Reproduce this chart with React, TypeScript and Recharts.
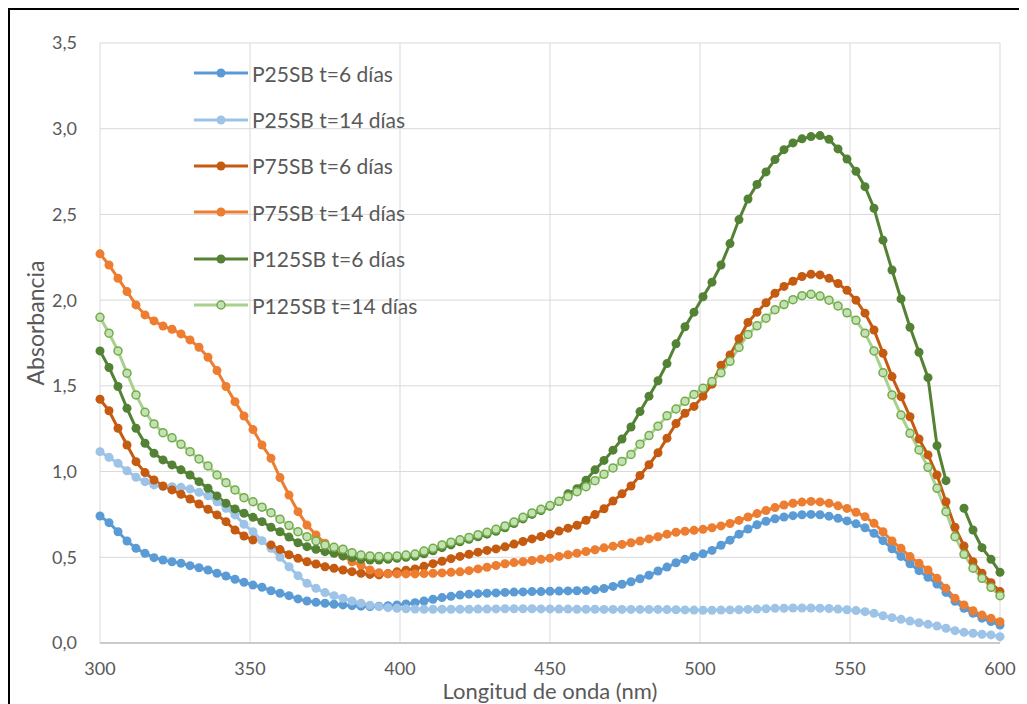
import { LineChart, Line, XAxis, YAxis, CartesianGrid, Legend, Label } from 'recharts'

// wavelength grid (nm), one reading every 3 nm
const NM = [
  300, 303, 306, 309, 312, 315, 318, 321, 324, 327,
  330, 333, 336, 339, 342, 345, 348, 351, 354, 357,
  360, 363, 366, 369, 372, 375, 378, 381, 384, 387,
  390, 393, 396, 399, 402, 405, 408, 411, 414, 417,
  420, 423, 426, 429, 432, 435, 438, 441, 444, 447,
  450, 453, 456, 459, 462, 465, 468, 471, 474, 477,
  480, 483, 486, 489, 492, 495, 498, 501, 504, 507,
  510, 513, 516, 519, 522, 525, 528, 531, 534, 537,
  540, 543, 546, 549, 552, 555, 558, 561, 564, 567,
  570, 573, 576, 579, 582, 585, 588, 591, 594, 597,
  600,
]

const P25_6 = [
  0.741, 0.702, 0.649, 0.595, 0.552, 0.523, 0.498, 0.484, 0.474, 0.465,
  0.451, 0.439, 0.426, 0.407, 0.391, 0.372, 0.354, 0.338, 0.325, 0.305,
  0.290, 0.276, 0.257, 0.245, 0.237, 0.232, 0.226, 0.222, 0.218, 0.215,
  0.213, 0.215, 0.218, 0.222, 0.228, 0.235, 0.245, 0.255, 0.265, 0.272,
  0.280, 0.285, 0.288, 0.290, 0.292, 0.295, 0.297, 0.298, 0.300, 0.300,
  0.302, 0.303, 0.304, 0.305, 0.306, 0.310, 0.318, 0.330, 0.343, 0.357,
  0.375, 0.395, 0.420, 0.443, 0.468, 0.488, 0.505, 0.520, 0.540, 0.570,
  0.600, 0.635, 0.665, 0.690, 0.710, 0.725, 0.735, 0.743, 0.748, 0.750,
  0.748, 0.740, 0.728, 0.712, 0.695, 0.672, 0.640, 0.597, 0.550, 0.505,
  0.462, 0.422, 0.383, 0.344, 0.295, 0.243, 0.203, 0.173, 0.145, 0.125,
  0.105,
]

const P25_14 = [
  1.116, 1.083, 1.048, 1.005, 0.967, 0.941, 0.922, 0.912, 0.912, 0.908,
  0.898, 0.879, 0.859, 0.824, 0.786, 0.747, 0.692, 0.649, 0.597, 0.552,
  0.500, 0.445, 0.393, 0.348, 0.319, 0.294, 0.276, 0.261, 0.245, 0.232,
  0.220, 0.212, 0.206, 0.202, 0.200, 0.198, 0.197, 0.197, 0.197, 0.197,
  0.197, 0.197, 0.198, 0.198, 0.199, 0.200, 0.200, 0.200, 0.200, 0.199,
  0.199, 0.198, 0.198, 0.197, 0.197, 0.197, 0.196, 0.196, 0.196, 0.196,
  0.196, 0.196, 0.196, 0.195, 0.194, 0.193, 0.192, 0.191, 0.191, 0.192,
  0.193, 0.194, 0.196, 0.198, 0.200, 0.202, 0.203, 0.204, 0.204, 0.204,
  0.203, 0.201, 0.198, 0.194, 0.189, 0.183, 0.173, 0.159, 0.148, 0.138,
  0.128, 0.118, 0.109, 0.099, 0.086, 0.072, 0.062, 0.057, 0.051, 0.047,
  0.037,
]

const P75_6 = [
  1.422, 1.355, 1.253, 1.155, 1.058, 0.994, 0.951, 0.916, 0.893, 0.868,
  0.840, 0.811, 0.780, 0.747, 0.708, 0.659, 0.624, 0.601, null, 0.572,
  0.545, 0.515, 0.494, 0.474, 0.461, 0.445, 0.436, 0.426, 0.416, 0.407,
  0.400, 0.397, 0.405, 0.415, 0.425, 0.432, 0.447, 0.463, 0.477, 0.492,
  0.505, 0.518, 0.530, 0.540, 0.549, 0.561, 0.577, 0.592, 0.607, 0.621,
  0.635, 0.653, 0.670, 0.687, 0.716, 0.749, 0.783, 0.828, 0.870, 0.916,
  0.977, 1.040, 1.110, 1.195, 1.280, 1.340, 1.380, 1.440, 1.510, 1.620,
  1.680, 1.775, 1.870, 1.930, 1.985, 2.040, 2.080, 2.110, 2.138, 2.151,
  2.147, 2.127, 2.097, 2.057, 2.000, 1.924, 1.826, 1.690, 1.554, 1.437,
  1.320, 1.190, 1.097, 0.980, 0.824, 0.675, 0.566, 0.474, 0.407, 0.352,
  0.300,
]

const P75_14 = [
  2.270, 2.205, 2.128, 2.050, 1.972, 1.914, 1.879, 1.849, 1.830, 1.803,
  1.768, 1.725, 1.667, 1.589, 1.496, 1.408, 1.324, 1.245, 1.155, 1.078,
  0.965, 0.863, 0.766, 0.688, 0.630, 0.582, 0.543, 0.508, 0.474, 0.455,
  0.426, 0.410, 0.403, 0.403, 0.403, 0.403, 0.405, 0.407, 0.409, 0.412,
  0.415, 0.422, 0.432, 0.442, 0.452, 0.462, 0.469, 0.474, 0.481, 0.488,
  0.495, 0.505, 0.515, 0.524, 0.534, 0.544, 0.555, 0.565, 0.575, 0.585,
  0.595, 0.607, 0.620, 0.635, 0.646, 0.652, 0.657, 0.663, 0.672, 0.683,
  0.697, 0.715, 0.735, 0.755, 0.773, 0.790, 0.805, 0.815, 0.822, 0.826,
  0.823, 0.815, 0.800, 0.785, 0.763, 0.737, 0.698, 0.649, 0.595, 0.552,
  0.504, 0.465, 0.426, 0.377, 0.319, 0.261, 0.222, 0.188, 0.163, 0.144,
  0.124,
]

const P125_6 = [
  1.704, 1.607, 1.496, 1.369, 1.253, 1.165, 1.107, 1.068, 1.039, 1.010,
  0.980, 0.941, 0.903, 0.858, 0.815, 0.782, 0.757, 0.733, 0.708, 0.675,
  0.649, 0.618, 0.585, 0.562, 0.547, 0.533, 0.523, 0.508, 0.498, 0.488,
  0.484, 0.484, 0.488, 0.494, 0.500, 0.506, 0.520, 0.538, 0.556, 0.572,
  0.590, 0.605, 0.620, 0.635, 0.652, 0.672, 0.697, 0.724, 0.750, 0.772,
  0.797, 0.825, 0.870, 0.900, 0.950, 1.010, 1.065, 1.125, 1.190, 1.260,
  1.350, 1.440, 1.530, 1.630, 1.745, 1.845, 1.930, 2.020, 2.105, 2.205,
  2.330, 2.470, 2.590, 2.675, 2.748, 2.820, 2.878, 2.917, 2.941, 2.954,
  2.960, 2.938, 2.882, 2.823, 2.752, 2.662, 2.536, 2.350, 2.176, 2.007,
  1.842, 1.696, 1.548, 1.151, 0.947, null, 0.786, 0.659, 0.556, 0.488,
  0.412,
]

const P125_14 = [
  1.900, 1.807, 1.704, 1.574, 1.447, 1.346, 1.278, 1.227, 1.197, 1.159,
  1.116, 1.074, 1.033, 0.980, 0.935, 0.893, 0.848, 0.824, 0.792, 0.760,
  0.722, 0.685, 0.649, 0.620, 0.595, 0.572, 0.558, 0.547, 0.527, 0.513,
  0.508, 0.504, 0.504, 0.508, 0.513, 0.519, 0.536, 0.552, 0.572, 0.588,
  0.602, 0.616, 0.632, 0.646, 0.663, 0.683, 0.706, 0.733, 0.759, 0.780,
  0.802, 0.827, 0.854, 0.883, 0.912, 0.947, 0.984, 1.021, 1.059, 1.100,
  1.160, 1.210, 1.265, 1.325, 1.365, 1.410, 1.450, 1.486, 1.526, 1.576,
  1.643, 1.724, 1.800, 1.850, 1.895, 1.944, 1.974, 2.003, 2.026, 2.034,
  2.024, 2.000, 1.966, 1.926, 1.882, 1.807, 1.704, 1.577, 1.447, 1.330,
  1.223, 1.126, 1.025, 0.902, 0.766, 0.620, 0.517, 0.436, 0.377, 0.325,
  0.276,
]

const X_TICKS = [300, 350, 400, 450, 500, 550, 600]
const Y_TICKS = [0, 0.5, 1, 1.5, 2, 2.5, 3, 3.5]

const SERIES = [
  { key: 'p25_6', name: 'P25SB t=6 días', values: P25_6, line: '#5B9BD5', fill: '#5B9BD5', ring: '#5B9BD5' },
  { key: 'p25_14', name: 'P25SB t=14 días', values: P25_14, line: '#9DC3E6', fill: '#9DC3E6', ring: '#9DC3E6' },
  { key: 'p75_6', name: 'P75SB t=6 días', values: P75_6, line: '#C55A11', fill: '#C55A11', ring: '#C55A11' },
  { key: 'p75_14', name: 'P75SB t=14 días', values: P75_14, line: '#ED7D31', fill: '#ED7D31', ring: '#ED7D31' },
  { key: 'p125_6', name: 'P125SB t=6 días', values: P125_6, line: '#548235', fill: '#548235', ring: '#548235' },
  { key: 'p125_14', name: 'P125SB t=14 días', values: P125_14, line: '#A9D18E', fill: '#C5E0B4', ring: '#70AD47' },
]

const data = NM.map((nm, i) => {
  const row: Record<string, number | null> = { nm }
  SERIES.forEach(s => { row[s.key] = s.values[i] })
  return row
})

const TEXT = '#595959'
const FONT = 'Lato, "Open Sans", sans-serif'

const comma = (v: number) => v.toFixed(1).replace('.', ',')

function LegendRows() {
  return (
    <div>
      {SERIES.map(s => (
        <div key={s.key} style={{ display: 'flex', alignItems: 'center', height: 46.4 }}>
          <svg width={56} height={12} style={{ flex: 'none' }}>
            <line x1={1} y1={6} x2={55} y2={6} stroke={s.line} strokeWidth={3} />
            <circle cx={28} cy={6} r={s.key === 'p125_14' ? 4 : 4.5} fill={s.fill} stroke={s.ring} strokeWidth={s.key === 'p125_14' ? 1.5 : 0} />
          </svg>
          <span style={{ marginLeft: 3, fontSize: 21, color: TEXT, whiteSpace: 'nowrap' }}>{s.name}</span>
        </div>
      ))}
    </div>
  )
}

function YTitle() {
  return (
    <text x={25} y={313} transform="rotate(-90 25 313)" textAnchor="middle" dominantBaseline="central" fill={TEXT} fontSize={23}>
      Absorbancia
    </text>
  )
}

export default function App() {
  return (
    <div style={{ width: 1019, height: 696, boxSizing: 'border-box', borderTop: '2px solid #000', borderLeft: '2px solid #000', fontFamily: FONT, background: '#fff' }}>
      <LineChart width={1017} height={694} data={data} margin={{ top: 33, right: 27, bottom: 0, left: 0 }}>
        <CartesianGrid stroke="#D9D9D9" strokeWidth={1} />
        <XAxis
          dataKey="nm"
          type="number"
          domain={[300, 600]}
          ticks={X_TICKS}
          height={61}
          tickLine={false}
          tickSize={8}
          tickMargin={11}
          axisLine={{ stroke: '#BFBFBF', strokeWidth: 1.5 }}
          tick={{ fill: TEXT, fontSize: 18 }}
        >
          <Label value="Longitud de onda (nm)" position="insideBottom" offset={5} fill={TEXT} fontSize={22} />
        </XAxis>
        <YAxis
          type="number"
          domain={[0, 3.5]}
          ticks={Y_TICKS}
          width={90}
          tickLine={false}
          axisLine={false}
          tickSize={8}
          tickMargin={15}
          tickFormatter={comma}
          tick={{ fill: TEXT, fontSize: 18 }}
        >
          <Label content={YTitle} />
        </YAxis>
        <Legend
          layout="vertical"
          align="center"
          verticalAlign="middle"
          wrapperStyle={{ left: 183, top: 40, width: 280 }}
          content={LegendRows}
        />
        {SERIES.map(s => (
          <Line
            key={s.key}
            dataKey={s.key}
            name={s.name}
            type="linear"
            stroke={s.line}
            strokeWidth={3}
            dot={{ r: s.key === 'p125_14' ? 4 : 4.5, fill: s.fill, stroke: s.ring, strokeWidth: s.key === 'p125_14' ? 1.5 : 0 }}
            activeDot={false}
            isAnimationActive={false}
          />
        ))}
      </LineChart>
    </div>
  )
}
